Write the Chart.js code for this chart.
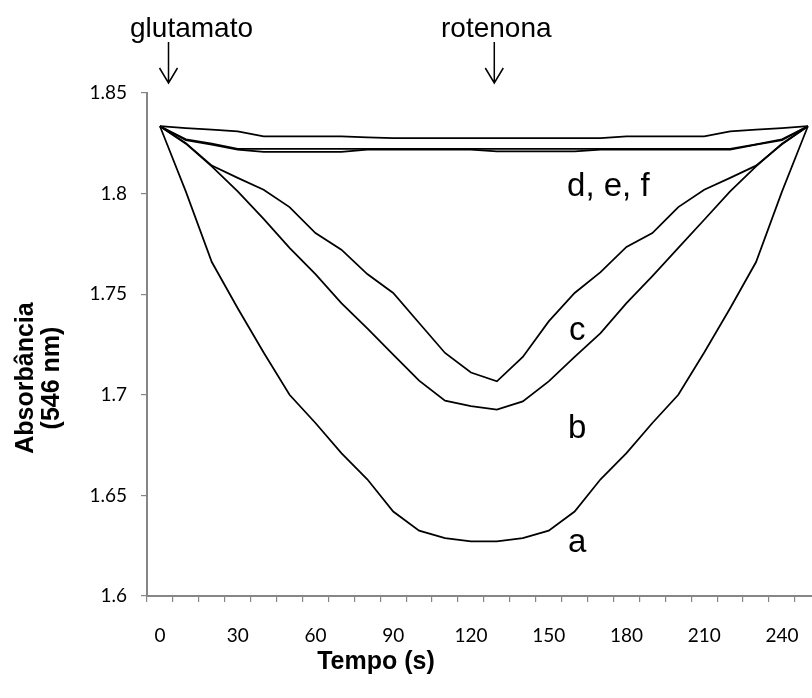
<!DOCTYPE html>
<html>
<head>
<meta charset="utf-8">
<script src="https://cdn.jsdelivr.net/npm/chart.js@4"></script>
<style>
html,body{margin:0;padding:0;background:#fff;overflow:hidden;width:812px;height:698px;}
#wrap{position:absolute;left:0;top:0;width:830px;height:698px;}
</style>
</head>
<body>
<div id="wrap"><canvas id="c" width="830" height="698"></canvas></div>
<script>
// Time categories (s)
const categories = [0,10,20,30,40,50,60,70,80,90,100,110,120,130,140,150,160,170,180,190,200,210,220,230,240,250];
const xTickLabels = ['0','','','30','','','60','','','90','','','120','','','150','','','180','','','210','','','240',''];
const yTickLabels = {'1.6':'1.6','1.65':'1.65','1.7':'1.7','1.75':'1.75','1.8':'1.8','1.85':'1.85'};

// Absorbance series
const seriesA = [1.8335,1.801,1.766,1.743,1.721,1.700,1.686,1.671,1.658,1.642,1.6325,1.6288,1.6271,1.6271,1.6288,1.6325,1.642,1.658,1.671,1.686,1.700,1.721,1.743,1.766,1.801,1.8335];
const seriesB = [1.8335,1.8248,1.8135,1.8011,1.7874,1.773,1.760,1.7456,1.733,1.720,1.707,1.6971,1.6944,1.6926,1.6967,1.7067,1.7188,1.7307,1.7456,1.759,1.773,1.787,1.8011,1.8135,1.8248,1.8335];
const seriesC = [1.8335,1.8251,1.8139,1.8078,1.8019,1.7933,1.7804,1.7721,1.760,1.7506,1.7357,1.7208,1.7111,1.7067,1.7188,1.7365,1.7506,1.761,1.7735,1.7804,1.7933,1.8019,1.8078,1.8139,1.8245,1.8335];
const seriesD = [1.8335,1.8326,1.8318,1.8309,1.8284,1.8284,1.8284,1.8284,1.8280,1.8276,1.8276,1.8276,1.8276,1.8276,1.8276,1.8276,1.8276,1.8276,1.8284,1.8284,1.8284,1.8284,1.8309,1.8318,1.8326,1.8335];
const seriesE = [1.8335,1.8270,1.8248,1.8222,1.8222,1.8222,1.8222,1.8222,1.8222,1.8222,1.8222,1.8222,1.8222,1.8222,1.8222,1.8222,1.8222,1.8222,1.8222,1.8222,1.8222,1.8222,1.8222,1.8245,1.8270,1.8335];
const seriesF = [1.8335,1.8265,1.8243,1.8218,1.8207,1.8207,1.8207,1.8207,1.8218,1.8218,1.8218,1.8218,1.8218,1.8210,1.8210,1.8210,1.8210,1.8218,1.8218,1.8218,1.8218,1.8218,1.8218,1.8243,1.8265,1.8335];

// Curve labels: [text, category index (fractional), value at baseline]
const curveLabels = [
  ['a', 16.1, 1.6217],
  ['b', 16.1, 1.6785],
  ['c', 16.1, 1.7274],
  ['d, e, f', 17.3, 1.7986]
];
// Event markers: [text, category index]
const events = [['glutamato', 0.33], ['rotenona', 12.9]];

const axisGray = '#868686';
const tickFont = {family: 'Lato, "Liberation Sans", sans-serif', size: 19};

const labelPlugin = {
  id: 'extraText',
  afterDraw(chart) {
    const ctx = chart.ctx;
    const xs = chart.scales.x, ys = chart.scales.y;
    ctx.save();
    ctx.fillStyle = '#000';
    ctx.strokeStyle = '#000';
    // curve labels
    ctx.font = '33px "Liberation Sans", Arial, sans-serif';
    ctx.textAlign = 'center';
    ctx.textBaseline = 'alphabetic';
    curveLabels.forEach(([t, xi, v]) => {
      ctx.fillText(t, xs.getPixelForValue(xi), ys.getPixelForValue(v));
    });
    // event annotations
    ctx.font = '28px "Liberation Sans", Arial, sans-serif';
    events.forEach(([t, xi], k) => {
      const px = xs.getPixelForValue(xi);
      const tx = k === 0 ? px + 23 : px + 2;
      ctx.fillText(t, tx, 37);
      ctx.lineWidth = 1.5;
      ctx.beginPath();
      ctx.moveTo(px, 42); ctx.lineTo(px, 83);
      ctx.moveTo(px - 9, 68); ctx.lineTo(px, 83); ctx.lineTo(px + 9, 68);
      ctx.stroke();
    });
    // axis titles
    ctx.font = 'bold 25px "Liberation Sans", Arial, sans-serif';
    ctx.textAlign = 'center';
    ctx.textBaseline = 'middle';
    ctx.fillText('Tempo (s)', 376, 662);
    ctx.save();
    ctx.translate(26, 378);
    ctx.rotate(-Math.PI / 2);
    ctx.fillText('Absorbância', 0, 0);
    ctx.restore();
    ctx.save();
    ctx.translate(52, 378);
    ctx.rotate(-Math.PI / 2);
    ctx.fillText('(546 nm)', 0, 0);
    ctx.restore();
    ctx.restore();
  }
};

function ds(data) {
  return {data, borderColor: '#000', borderWidth: 1.75, pointRadius: 0, fill: false, tension: 0};
}

new Chart(document.getElementById('c'), {
  type: 'line',
  data: {
    labels: categories,
    datasets: [ds(seriesA), ds(seriesB), ds(seriesC), ds(seriesD), ds(seriesE), ds(seriesF)]
  },
  options: {
    responsive: false,
    devicePixelRatio: 1,
    animation: false,
    layout: {padding: {top: 93, right: 6, left: 0, bottom: 0}},
    plugins: {legend: {display: false}, tooltip: {enabled: false}},
    scales: {
      x: {
        type: 'category',
        offset: true,
        grid: {offset: true, drawOnChartArea: false, drawTicks: true, tickLength: 6, color: axisGray, lineWidth: 1.2},
        border: {display: true, color: axisGray, width: 2},
        ticks: {
          autoSkip: false, maxRotation: 0, minRotation: 0, padding: 22,
          color: '#000', font: tickFont,
          callback: (v, i) => xTickLabels[i]
        },
        afterFit(s) { s.height = 102; }
      },
      y: {
        min: 1.6, max: 1.85,
        grid: {drawOnChartArea: false, drawTicks: true, tickLength: 6, color: axisGray, lineWidth: 1.2},
        border: {display: true, color: axisGray, width: 2},
        ticks: {
          stepSize: 0.05, padding: 14, color: '#000', font: tickFont,
          callback: (v) => yTickLabels[String(Math.round(v * 100) / 100)] ?? ''
        },
        afterFit(s) { s.width = 147; }
      }
    }
  },
  plugins: [labelPlugin]
});
</script>
</body>
</html>
